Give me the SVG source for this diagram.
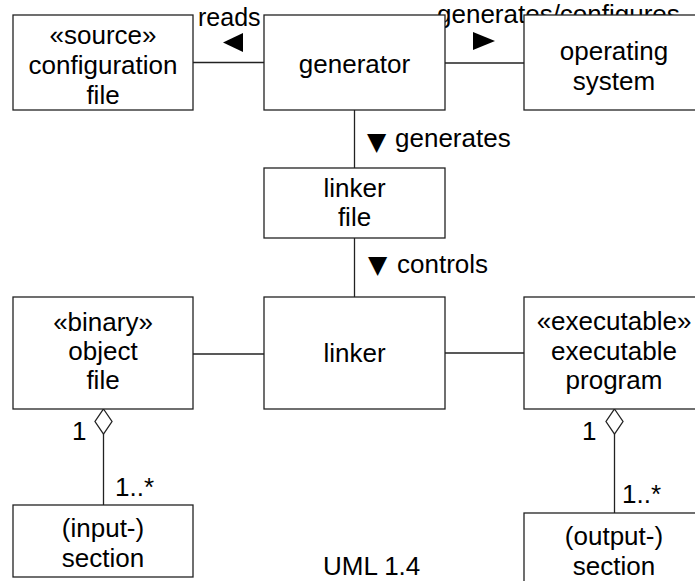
<svg xmlns="http://www.w3.org/2000/svg" width="695" height="581" viewBox="0 0 695 581">
<style>
.box{fill:#fff;stroke:#222;stroke-width:1.3}
.ln{fill:none;stroke:#222;stroke-width:1.3}
.arr{fill:#000;stroke:none}
text{font-family:"Liberation Sans",Arial,sans-serif;font-size:26px;fill:#000}
.c{text-anchor:middle}
.tri{font-family:"DejaVu Sans",sans-serif;font-size:25px;text-anchor:middle}
</style>
<rect width="695" height="581" fill="#fff"/>
<g id="connectors">
<line class="ln" x1="193" y1="62.5" x2="264" y2="62.5"/>
<line class="ln" x1="445" y1="63" x2="524" y2="63"/>
<line class="ln" x1="354.5" y1="110" x2="354.5" y2="168"/>
<line class="ln" x1="354.5" y1="238" x2="354.5" y2="297"/>
<line class="ln" x1="193" y1="354" x2="264" y2="354"/>
<line class="ln" x1="445" y1="353" x2="524" y2="353"/>
<line class="ln" x1="103.5" y1="434" x2="103.5" y2="505"/>
<polygon class="box" points="103.5,409 112,421.5 103.5,434 95,421.5"/>
<line class="ln" x1="614.5" y1="434" x2="614.5" y2="513"/>
<polygon class="box" points="614.5,409 623,421.5 614.5,434 606,421.5"/>
<text x="198" y="26" style="font-size:25px">reads</text>
<polygon class="arr" points="243,33 243,52 223,42.5"/>
<text x="437" y="23">generates/configures</text>
<polygon class="arr" points="473,32 473,50 495,41"/>
<text class="tri" x="376.5" y="150">▼</text>
<text x="395" y="147">generates</text>
<text class="tri" x="377.5" y="273">▼</text>
<text x="397" y="273">controls</text>
<text x="72" y="440">1</text>
<text x="115" y="496">1..*</text>
<text x="582" y="440">1</text>
<text x="622" y="503">1..*</text>
</g>
<g id="config">
<rect class="box" x="13" y="15" width="180" height="95"/>
<text class="c" x="103" y="44">«source»</text>
<text class="c" x="103" y="74">configuration</text>
<text class="c" x="103" y="104">file</text>
</g>
<g id="generator">
<rect class="box" x="264" y="15" width="181" height="95"/>
<text class="c" x="354.5" y="73">generator</text>
</g>
<g id="os">
<rect class="box" x="524" y="15" width="181" height="95"/>
<text class="c" x="614" y="60">operating</text>
<text class="c" x="614" y="90">system</text>
</g>
<g id="linkerfile">
<rect class="box" x="264" y="168" width="181" height="70"/>
<text class="c" x="354.5" y="197">linker</text>
<text class="c" x="354.5" y="226">file</text>
</g>
<g id="objectfile">
<rect class="box" x="13" y="297" width="180" height="112"/>
<text class="c" x="103" y="331">«binary»</text>
<text class="c" x="103" y="360">object</text>
<text class="c" x="103" y="389">file</text>
</g>
<g id="linker">
<rect class="box" x="264" y="297" width="181" height="112"/>
<text class="c" x="354.5" y="362">linker</text>
</g>
<g id="executable">
<rect class="box" x="524" y="297" width="181" height="112"/>
<text class="c" x="614" y="330">«executable»</text>
<text class="c" x="614" y="360">executable</text>
<text class="c" x="614" y="389">program</text>
</g>
<g id="inputsection">
<rect class="box" x="13" y="505" width="180" height="72"/>
<text class="c" x="103" y="537">(input-)</text>
<text class="c" x="103" y="567">section</text>
</g>
<g id="outputsection">
<rect class="box" x="524" y="513" width="181" height="80"/>
<text class="c" x="614" y="545">(output-)</text>
<text class="c" x="614" y="575">section</text>
</g>
<text x="323" y="575">UML 1.4</text>
</svg>
